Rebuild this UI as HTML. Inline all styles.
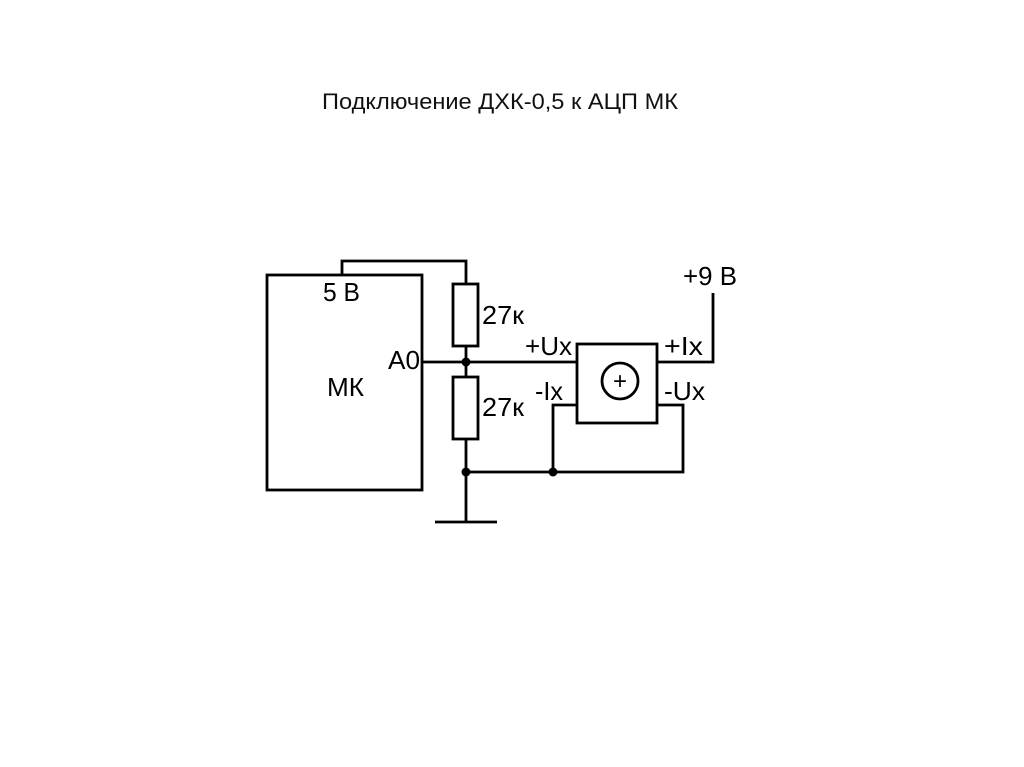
<!DOCTYPE html>
<html><head><meta charset="utf-8"><style>html,body{margin:0;padding:0;background:#fff}svg{display:block}
.l{font-family:"Liberation Sans",sans-serif;font-size:26px;fill:#000}</style></head>
<body>
<svg width="1024" height="767" viewBox="0 0 1024 767" xmlns="http://www.w3.org/2000/svg">
<rect width="1024" height="767" fill="#fff"/>
<text x="322" y="109" style="font-family:'Liberation Sans',sans-serif;font-size:22px" textLength="356" lengthAdjust="spacingAndGlyphs" fill="#111">Подключение ДХК-0,5 к АЦП МК</text>
<g stroke="#000" stroke-width="2.8" fill="none">
<rect x="267" y="275" width="155" height="215"/>
<polyline points="342,275 342,261 466,261 466,284"/>
<rect x="453" y="284" width="25" height="62"/>
<line x1="466" y1="346" x2="466" y2="377"/>
<rect x="453" y="377" width="25" height="62"/>
<line x1="466" y1="439" x2="466" y2="522"/>
<line x1="435" y1="522" x2="497" y2="522"/>
<line x1="422" y1="362" x2="577" y2="362"/>
<rect x="577" y="344" width="80" height="79"/>
<circle cx="620" cy="381" r="18"/>
<polyline points="657,362 713,362 713,293"/>
<polyline points="577,405 553,405 553,472"/>
<polyline points="657,405 683,405 683,472 466,472"/>
</g>
<g fill="#000">
<circle cx="466" cy="362" r="4.5"/>
<circle cx="466" cy="472" r="4.5"/>
<circle cx="553" cy="472" r="4.5"/>
</g>
<text class="l" x="323" y="301" textLength="37" lengthAdjust="spacingAndGlyphs">5 В</text>
<text class="l" x="388" y="369" textLength="32" lengthAdjust="spacingAndGlyphs">A0</text>
<text class="l" x="327" y="396" textLength="37" lengthAdjust="spacingAndGlyphs">МК</text>
<text class="l" x="482" y="324" textLength="42" lengthAdjust="spacingAndGlyphs">27к</text>
<text class="l" x="482" y="416" textLength="42" lengthAdjust="spacingAndGlyphs">27к</text>
<text class="l" x="525" y="355" textLength="47" lengthAdjust="spacingAndGlyphs">+Ux</text>
<text class="l" x="535" y="400" textLength="28" lengthAdjust="spacingAndGlyphs">-Ix</text>
<text class="l" x="664" y="355" textLength="39" lengthAdjust="spacingAndGlyphs">+Ix</text>
<text class="l" x="664" y="400" textLength="41" lengthAdjust="spacingAndGlyphs">-Ux</text>
<text class="l" x="683" y="285" textLength="54" lengthAdjust="spacingAndGlyphs">+9 В</text>
<text class="l" x="620" y="389" style="font-size:24px" text-anchor="middle">+</text>
</svg>
</body></html>
